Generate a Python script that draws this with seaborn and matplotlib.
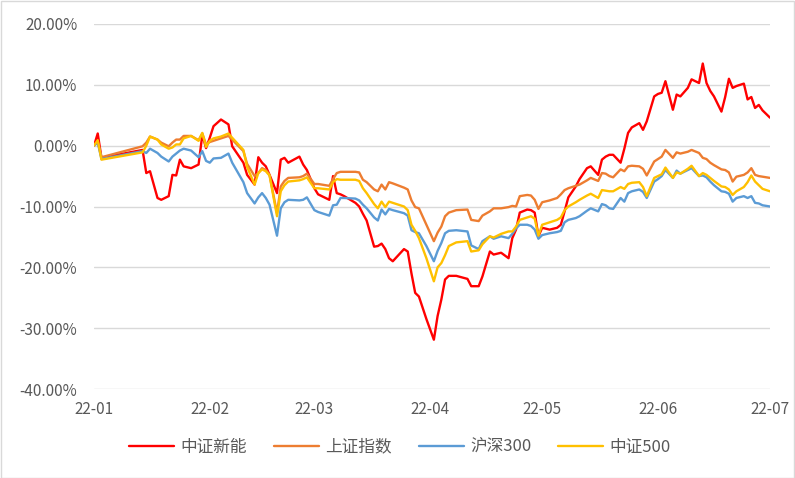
import matplotlib
matplotlib.use("Agg")
import matplotlib.pyplot as plt
import matplotlib.dates as mdates
from matplotlib.ticker import FuncFormatter
from matplotlib.patches import Rectangle
import pandas as pd
import seaborn as sns

dates = [
    "2022-01-01", "2022-01-02", "2022-01-03", "2022-01-14", "2022-01-15", "2022-01-16", "2022-01-18", "2022-01-19", "2022-01-21", "2022-01-22",
    "2022-01-23", "2022-01-24", "2022-01-25", "2022-01-27", "2022-01-29", "2022-01-30", "2022-01-31", "2022-02-01", "2022-02-02", "2022-02-04",
    "2022-02-06", "2022-02-07", "2022-02-10", "2022-02-11", "2022-02-13", "2022-02-14", "2022-02-15", "2022-02-16", "2022-02-17", "2022-02-19",
    "2022-02-20", "2022-02-21", "2022-02-22", "2022-02-25", "2022-02-26", "2022-02-27", "2022-03-01", "2022-03-02", "2022-03-05", "2022-03-06",
    "2022-03-07", "2022-03-08", "2022-03-09", "2022-03-12", "2022-03-13", "2022-03-14", "2022-03-15", "2022-03-17", "2022-03-18", "2022-03-19",
    "2022-03-20", "2022-03-21", "2022-03-22", "2022-03-25", "2022-03-26", "2022-03-27", "2022-03-28", "2022-03-29", "2022-03-31", "2022-04-02",
    "2022-04-03", "2022-04-04", "2022-04-05", "2022-04-06", "2022-04-08", "2022-04-11", "2022-04-12", "2022-04-14", "2022-04-15", "2022-04-17",
    "2022-04-18", "2022-04-20", "2022-04-22", "2022-04-23", "2022-04-24", "2022-04-25", "2022-04-27", "2022-04-28", "2022-04-29", "2022-04-30",
    "2022-05-01", "2022-05-03", "2022-05-05", "2022-05-06", "2022-05-07", "2022-05-08", "2022-05-10", "2022-05-11", "2022-05-13", "2022-05-14",
    "2022-05-16", "2022-05-17", "2022-05-18", "2022-05-19", "2022-05-20", "2022-05-22", "2022-05-23", "2022-05-24", "2022-05-25", "2022-05-27",
    "2022-05-28", "2022-05-29", "2022-05-31", "2022-06-01", "2022-06-02", "2022-06-03", "2022-06-05", "2022-06-06", "2022-06-07", "2022-06-09",
    "2022-06-10", "2022-06-12", "2022-06-13", "2022-06-14", "2022-06-15", "2022-06-16", "2022-06-18", "2022-06-19", "2022-06-20", "2022-06-21",
    "2022-06-22", "2022-06-24", "2022-06-25", "2022-06-26", "2022-06-27", "2022-06-28", "2022-06-29", "2022-07-01",
]

xinneng = [
    0, 2.0, -2.0, -0.7, -4.5, -4.2, -8.6, -8.9, -8.3, -4.8,
    -4.9, -2.3, -3.4, -3.7, -3.1, 1.8, -0.4, 1.3, 3.2, 4.3,
    3.5, -0.1, -2.8, -4.8, -6.4, -1.9, -2.8, -3.4, -4.8, -7.8,
    -2.3, -2.0, -2.8, -1.8, -3.1, -4.0, -7.0, -8.0, -8.9, -5.0,
    -7.8, -8.0, -8.3, -9.4, -10.0, -11.2, -12.3, -16.6, -16.5, -16.1,
    -17.0, -18.5, -19.0, -17.0, -17.4, -21.0, -24.2, -24.8, -28.5, -31.9,
    -28.0, -25.3, -22.0, -21.4, -21.4, -21.9, -23.1, -23.1, -21.5, -17.4,
    -17.9, -17.6, -18.5, -15.2, -13.8, -11.0, -10.5, -10.6, -11.0, -14.9,
    -13.5, -13.8, -13.5, -13.0, -10.8, -8.5, -6.7, -5.5, -3.7, -3.4,
    -4.8, -2.3, -1.8, -1.5, -1.5, -2.8, -0.5, 2.1, 3.0, 3.7,
    2.6, 4.0, 8.1, 8.5, 8.7, 10.6, 5.9, 8.4, 8.1, 9.5,
    10.9, 10.3, 13.5, 10.3, 9.0, 8.1, 5.6, 8.0, 11.0, 9.5,
    9.8, 10.2, 7.6, 8.0, 6.2, 6.7, 5.8, 4.6,
]

shangzheng = [
    0, 0.7, -1.9, -0.1, 0.5, 1.5, 1.0, 0.5, -0.1, 0.5,
    1.0, 1.0, 1.6, 1.6, 0.9, 2.0, 0.2, 0.6, 0.8, 1.2,
    1.6, 1.0, -0.9, -3.0, -5.0, -4.5, -3.7, -4.0, -4.8, -11.1,
    -6.7, -5.8, -5.3, -5.2, -5.0, -4.6, -6.3, -6.3, -6.6, -5.5,
    -4.5, -4.3, -4.3, -4.3, -4.4, -5.6, -6.0, -7.2, -7.5, -6.4,
    -7.2, -6.0, -6.2, -6.9, -7.2, -9.0, -10.1, -10.3, -13.0, -15.7,
    -14.3, -13.3, -11.6, -11.0, -10.6, -10.5, -12.2, -12.4, -11.5, -10.8,
    -10.3, -10.3, -10.1, -9.9, -10.0, -8.3, -8.1, -8.2, -8.9, -10.4,
    -9.3, -9.0, -8.6, -8.0, -7.3, -7.0, -6.6, -6.4, -5.7, -5.3,
    -5.8, -4.5, -4.6, -5.0, -5.2, -3.9, -4.2, -3.4, -3.3, -3.4,
    -3.8, -4.9, -2.6, -2.2, -1.8, -0.7, -2.0, -1.1, -1.3, -1.0,
    -0.7, -1.2, -2.0, -2.2, -2.8, -3.2, -3.9, -4.0, -4.4, -5.9,
    -5.1, -4.8, -4.4, -3.7, -4.8, -5.0, -5.1, -5.3,
]

hushen300 = [
    0, 0.5, -2.2, -0.9, -1.2, -0.5, -1.2, -1.8, -2.6, -1.8,
    -1.3, -0.8, -0.5, -0.8, -1.9, -0.9, -2.5, -2.8, -2.1, -2.0,
    -1.3, -2.8, -6.0, -7.8, -9.5, -8.5, -7.8, -8.6, -9.7, -14.8,
    -10.3, -9.3, -8.9, -9.0, -8.9, -8.5, -10.6, -10.9, -11.5, -9.8,
    -9.7, -8.6, -8.6, -8.7, -9.0, -9.7, -10.3, -11.8, -12.3, -10.5,
    -11.3, -10.4, -10.6, -11.1, -11.5, -13.9, -14.2, -14.4, -16.5, -19.0,
    -17.3, -16.0, -14.4, -14.0, -13.9, -14.1, -16.4, -17.0, -15.7, -14.9,
    -15.3, -14.9, -15.2, -14.5, -13.6, -13.0, -13.0, -13.2, -13.8, -15.3,
    -14.7, -14.4, -14.2, -14.0, -12.6, -12.2, -11.9, -11.6, -10.7, -10.3,
    -10.8, -9.6, -9.8, -10.3, -10.4, -8.6, -9.2, -7.8, -7.5, -7.2,
    -7.6, -8.6, -5.9, -5.5, -5.0, -4.0, -5.3, -4.1, -4.6, -4.0,
    -3.7, -5.0, -4.9, -5.2, -5.9, -6.5, -7.5, -7.6, -7.9, -9.2,
    -8.6, -8.3, -8.6, -8.3, -9.4, -9.5, -9.8, -10.0,
]

zhongzheng500 = [
    0, 0.9, -2.3, -1.1, 0.0, 1.5, 1.0, 0.2, -0.5, -0.3,
    0.2, 0.2, 1.2, 1.6, 0.8, 2.1, -0.2, 0.8, 1.2, 1.5,
    2.0, 1.3, -0.7, -3.5, -6.4, -4.5, -3.9, -4.2, -4.9, -11.6,
    -7.5, -6.5, -5.9, -5.7, -5.5, -5.2, -7.0, -7.0, -7.2, -6.0,
    -5.5, -5.6, -5.6, -5.6, -5.8, -7.0, -7.8, -9.6, -10.3, -9.2,
    -10.1, -9.2, -9.4, -10.0, -10.6, -13.0, -14.0, -15.2, -18.5, -22.3,
    -20.0, -19.3, -18.0, -16.5, -15.9, -15.7, -17.4, -17.2, -16.2, -14.9,
    -15.1, -14.5, -14.1, -14.1, -13.3, -12.2, -11.8, -11.6, -12.0, -14.8,
    -13.0, -12.6, -12.2, -11.8, -10.6, -10.0, -9.3, -8.9, -8.2, -7.9,
    -8.6, -7.3, -7.4, -7.5, -7.5, -6.8, -7.1, -6.3, -6.1, -6.0,
    -6.8, -8.3, -5.3, -5.0, -4.7, -3.6, -5.3, -4.4, -4.6, -3.8,
    -3.3, -5.0, -4.5, -4.8, -5.3, -5.8, -6.7, -6.8, -7.2, -8.1,
    -7.5, -6.8, -6.0, -4.9, -5.9, -6.5, -7.1, -7.5,
]

series_names = ["中证新能", "上证指数", "沪深300", "中证500"]
colors = ["#FF0000", "#ED7D31", "#5B9BD5", "#FFC000"]
month_ticks = ["2022-01-01", "2022-02-01", "2022-03-01", "2022-04-01",
               "2022-05-01", "2022-06-01", "2022-07-01"]
y_ticks = [-40, -30, -20, -10, 0, 10, 20]

wide = pd.DataFrame({
    "date": pd.to_datetime(dates),
    series_names[0]: xinneng,
    series_names[1]: shangzheng,
    series_names[2]: hushen300,
    series_names[3]: zhongzheng500,
})
df = wide.melt(id_vars="date", var_name="series", value_name="value")

sns.set_theme(style="white")
plt.rcParams["font.family"] = ["Noto Sans CJK SC", "DejaVu Sans"]

W, H = 795, 478
fig = plt.figure(figsize=(W / 100, H / 100), dpi=100)
ax = fig.add_axes([94 / W, 1 - 389 / H, (770 - 94) / W, (389 - 24) / H])

sns.lineplot(data=df, x="date", y="value", hue="series", hue_order=series_names,
             palette=colors, linewidth=1.7, ax=ax, legend=True)

ax.set_xlim(pd.Timestamp(month_ticks[0]), pd.Timestamp(month_ticks[-1]))
ax.set_ylim(y_ticks[0], y_ticks[-1])
ax.set_yticks(y_ticks)
ax.set_xticks(pd.to_datetime(month_ticks))
ax.xaxis.set_major_formatter(mdates.DateFormatter("%y-%m"))
ax.yaxis.set_major_formatter(FuncFormatter(lambda v, p: f"{v:.2f}%"))
ax.grid(axis="y", color="#D9D9D9", linewidth=1.0)
ax.grid(axis="x", visible=False)
ax.set_axisbelow(True)
for s in ax.spines.values():
    s.set_visible(False)
ax.tick_params(axis="both", length=0, labelsize=11, labelcolor="#595959")
ax.tick_params(axis="x", pad=9)
ax.tick_params(axis="y", pad=12)
ax.set_xlabel("")
ax.set_ylabel("")

handles, labels = ax.get_legend_handles_labels()
ax.legend_.remove()
leg = fig.legend(handles, labels, loc="center", bbox_to_anchor=(400 / W, 1 - 447 / H),
                 ncol=4, frameon=False, fontsize=12, handlelength=2.7,
                 handletextpad=0.4, columnspacing=1.6)
for t in leg.get_texts():
    t.set_color("#595959")

fig.patches.append(Rectangle((0.5 / W, 0.5 / H), 1 - 1.5 / W, 1 - 1.5 / H,
                             transform=fig.transFigure, fill=False,
                             edgecolor="#D9D9D9", linewidth=1.0))

fig.savefig("out.png", dpi=100)
